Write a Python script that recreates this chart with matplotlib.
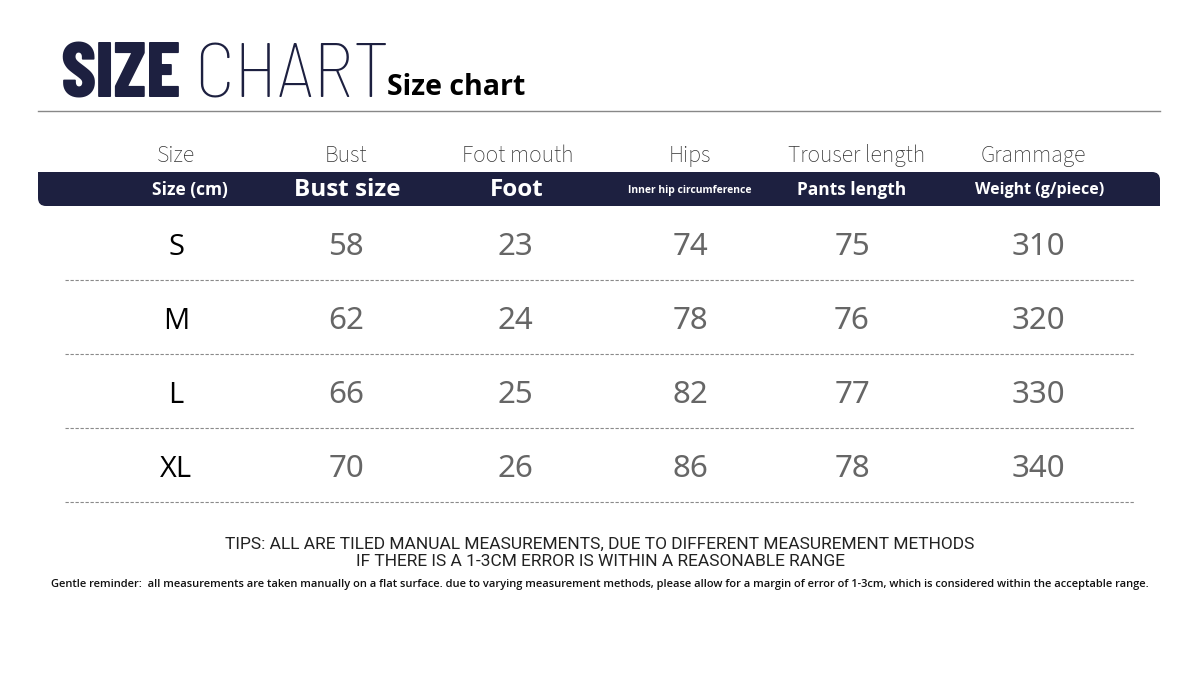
import matplotlib
matplotlib.use("Agg")
import matplotlib.pyplot as plt
from matplotlib.patches import FancyBboxPatch, Rectangle

# table content
sizes = ["S", "M", "L", "XL"]
bust = [58, 62, 66, 70]
foot_mouth = [23, 24, 25, 26]
hips = [74, 78, 82, 86]
trouser_length = [75, 76, 77, 78]
grammage = [310, 320, 330, 340]

headers = ["Size", "Bust", "Foot mouth", "Hips", "Trouser length", "Grammage"]
subheaders = ["Size (cm)", "Bust size", "Foot", "Inner hip circumference",
              "Pants length", "Weight (g/piece)"]
sub_sizes = [12.5, 17.5, 17.5, 7.5, 12.5, 11.5]

tips = ["TIPS: ALL ARE TILED MANUAL MEASUREMENTS, DUE TO DIFFERENT MEASUREMENT METHODS",
        "IF THERE IS A 1-3CM ERROR IS WITHIN A REASONABLE RANGE"]
reminder = ("Gentle reminder:  all measurements are taken manually on a flat surface. due to varying "
            "measurement methods, please allow for a margin of error of 1-3cm, which is considered "
            "within the acceptable range.")

NAVY = "#1d2040"
LIGHT = ["Source Sans 3", "Open Sans", "DejaVu Sans"]
DIGITS = ["Noto Sans", "Open Sans", "DejaVu Sans"]
BOLD = ["Open Sans", "DejaVu Sans"]
TITLE = ["Barlow Condensed", "Oswald", "DejaVu Sans"]
TITLE_THIN = ["Barlow Semi Condensed", "Barlow Condensed", "DejaVu Sans"]
col_x = [176, 346, 515, 690, 852, 1038]
head_x = [176, 346, 518, 690, 857, 1033]
sub_x = [190, 347, 517, 690, 852, 1040]
row_base = [255, 329, 403, 477]

fig = plt.figure(figsize=(12, 6.82), dpi=100)
ax = fig.add_axes([0, 0, 1, 1])
ax.set_xlim(0, 1200)
ax.set_ylim(682, 0)
ax.axis("off")

# title
ax.text(60, 98, "SIZE", fontsize=56, fontweight="heavy", color=NAVY,
        family=TITLE, va="baseline", ha="left")
ax.text(194, 98, "CHART", fontsize=55, fontweight=200, color=NAVY,
        family=TITLE_THIN, va="baseline", ha="left")
ax.text(387, 95, "Size chart", fontsize=20.5, fontweight="bold", color="black",
        family=BOLD, va="baseline", ha="left")
ax.plot([38, 1160], [111, 111], color="#888888", lw=1)

# header row
for x, h in zip(head_x, headers):
    ax.text(x, 162, h, fontsize=17, color="#333333", family=LIGHT,
            ha="center", va="baseline")
bar = FancyBboxPatch((38, 172), 1122, 34, boxstyle="round,pad=0,rounding_size=8",
                     facecolor=NAVY, edgecolor="none")
ax.add_patch(bar)
ax.add_patch(Rectangle((38, 172), 20, 16, facecolor=NAVY, edgecolor="none"))
ax.add_patch(Rectangle((1140, 190), 20, 16, facecolor=NAVY, edgecolor="none"))
for x, s, fs in zip(sub_x, subheaders, sub_sizes):
    ax.text(x, 190, s, fontsize=fs, color="white", family=BOLD,
            fontweight="bold", ha="center", va="center")

# body
for x, y, s in zip([col_x[0]] * len(sizes), row_base, sizes):
    ax.text(x, y, s, fontsize=21, ha="center", va="baseline",
            color="black", family=BOLD)
columns = [bust, foot_mouth, hips, trouser_length, grammage]
for x, col in zip(col_x[1:], columns):
    for y, v in zip(row_base, col):
        ax.text(x, y, str(v), fontsize=22.5, ha="center", va="baseline",
                color="#666666", family=DIGITS)
for y in row_base:
    ax.plot([65, 1135], [y + 25, y + 25], color="#8a8a8a", lw=0.8, ls=(0, (3, 1.5)))

# notes
ax.text(600, 544, tips[0], fontsize=12.5, ha="center", va="center",
        color="#222222", family=["Roboto", "DejaVu Sans"])
ax.text(600, 561, tips[1], fontsize=12.5, ha="center", va="center",
        color="#222222", family=["Roboto", "DejaVu Sans"])
ax.text(600, 584, reminder, fontsize=8.05, ha="center", va="center",
        color="#111111", family=BOLD, fontweight="semibold")

fig.savefig("out.png", dpi=100)
